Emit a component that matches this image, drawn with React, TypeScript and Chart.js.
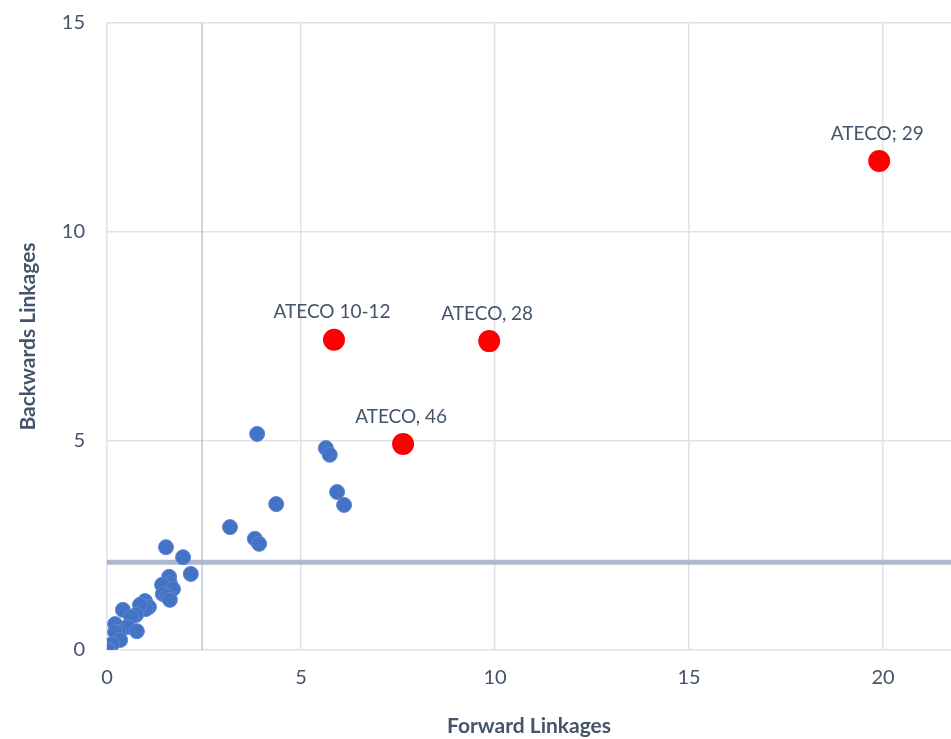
import React, { useEffect, useRef } from "react";
import { Chart, registerables } from "chart.js";

Chart.register(...registerables);

// Sector linkages (forward vs backward)
const forwardLinkages = [
  3.87, 5.64, 5.74, 5.93, 6.11, 4.36, 3.17, 3.81, 3.92, 1.52, 1.96, 2.16, 1.6,
  1.62, 1.42, 1.7, 1.44, 1.55, 1.62, 0.98, 1.08, 1.0, 0.85, 0.41, 0.75, 0.62,
  0.21, 0.52, 0.77, 0.31, 0.21, 0.34, 0.13, 0.03, 0.0,
];
const backwardLinkages = [
  5.17, 4.83, 4.67, 3.78, 3.47, 3.49, 2.94, 2.66, 2.54, 2.46, 2.22, 1.82, 1.75,
  1.6, 1.56, 1.46, 1.34, 1.29, 1.2, 1.17, 1.03, 0.98, 1.08, 0.96, 0.84, 0.79,
  0.62, 0.55, 0.45, 0.43, 0.43, 0.24, 0.14, 0.0, 0.0,
];

// Key sectors
const keyLabels = ["ATECO 10-12", "ATECO, 28", "ATECO, 46", "ATECO; 29"];
const keyForward = [5.85, 9.85, 7.63, 19.9];
const keyBackward = [7.42, 7.39, 4.93, 11.7];

// Reference thresholds
const forwardThreshold = 2.45;
const backwardThreshold = 2.1;

const xMax = 21.75;
const yMax = 15;

const FONT = "Lato, 'Open Sans', sans-serif";
const TEXT = "#44546a";

const keyLabelPlugin = {
  id: "keyLabels",
  afterDatasetsDraw(chart: any) {
    const meta = chart.getDatasetMeta(1);
    const ctx = chart.ctx;
    ctx.save();
    ctx.font = `19px ${FONT}`;
    ctx.fillStyle = TEXT;
    ctx.textAlign = "center";
    ctx.textBaseline = "bottom";
    meta.data.forEach((pt: any, i: number) => {
      ctx.fillText(keyLabels[i], pt.x - 2, pt.y - 18);
    });
    ctx.restore();
  },
};

export default function App() {
  const ref = useRef<HTMLCanvasElement>(null);

  useEffect(() => {
    if (!ref.current) return;
    const chart = new Chart(ref.current, {
      type: "scatter",
      data: {
        datasets: [
          {
            label: "Sectors",
            data: forwardLinkages.map((x, i) => ({ x, y: backwardLinkages[i] })),
            backgroundColor: "#4472c4",
            borderColor: "#5b86d4",
            borderWidth: 1,
            pointRadius: 7.5,
            order: 1,
          },
          {
            label: "Key sectors",
            data: keyForward.map((x, i) => ({ x, y: keyBackward[i] })),
            backgroundColor: "#ff0000",
            borderColor: "#ff0000",
            borderWidth: 0,
            pointRadius: 11,
            order: 0,
          },
          {
            label: "Backward threshold",
            type: "line",
            data: [
              { x: 0, y: backwardThreshold },
              { x: xMax, y: backwardThreshold },
            ],
            borderColor: "#adb9ca",
            borderWidth: 5,
            pointRadius: 0,
            order: 5,
          },
          {
            label: "Forward threshold",
            type: "line",
            data: [
              { x: forwardThreshold, y: 0 },
              { x: forwardThreshold, y: yMax },
            ],
            borderColor: "#a3abba",
            borderWidth: 1,
            pointRadius: 0,
            order: 5,
          },
        ] as any,
      },
      options: {
        animation: false,
        responsive: false,
        maintainAspectRatio: false,
        layout: { padding: { top: 23, right: 0, left: 0, bottom: 0 } },
        plugins: {
          legend: { display: false },
          tooltip: { enabled: false },
        },
        scales: {
          x: {
            type: "linear",
            min: 0,
            max: xMax,
            border: { display: false },
            grid: { color: "#dfe3e9", lineWidth: 1.5, drawTicks: false },
            ticks: {
              stepSize: 5,
              includeBounds: false,
              autoSkip: false,
              padding: 16,
              color: TEXT,
              font: { family: FONT, size: 20 },
            },
            afterFit: (scale: any) => {
              scale.height = 89;
              scale.paddingRight = 0;
              scale.paddingLeft = 0;
            },
            title: {
              display: true,
              text: "Forward Linkages",
              color: TEXT,
              font: { family: FONT, size: 21, weight: "bold" },
              padding: 0,
            },
          },
          y: {
            type: "linear",
            min: 0,
            max: yMax,
            border: { display: false },
            grid: { color: "#dfe3e9", lineWidth: 1.5, drawTicks: false },
            ticks: {
              stepSize: 5,
              padding: 22,
              color: TEXT,
              font: { family: FONT, size: 20 },
            },
            afterFit: (scale: any) => {
              scale.width = 107;
              scale.paddingTop = 0;
              scale.paddingBottom = 0;
            },
            title: {
              display: true,
              text: "Backwards Linkages",
              color: TEXT,
              font: { family: FONT, size: 21, weight: "bold" },
              padding: { top: 16, bottom: 0 },
            },
          },
        },
      },
      plugins: [keyLabelPlugin],
    });
    return () => chart.destroy();
  }, []);

  return (
    <div
      style={{
        position: "absolute",
        left: 0,
        top: 0,
        width: 951,
        height: 739,
        overflow: "hidden",
        background: "#fff",
      }}
    >
      <canvas ref={ref} width={962} height={739} style={{ display: "block" }} />
    </div>
  );
}
